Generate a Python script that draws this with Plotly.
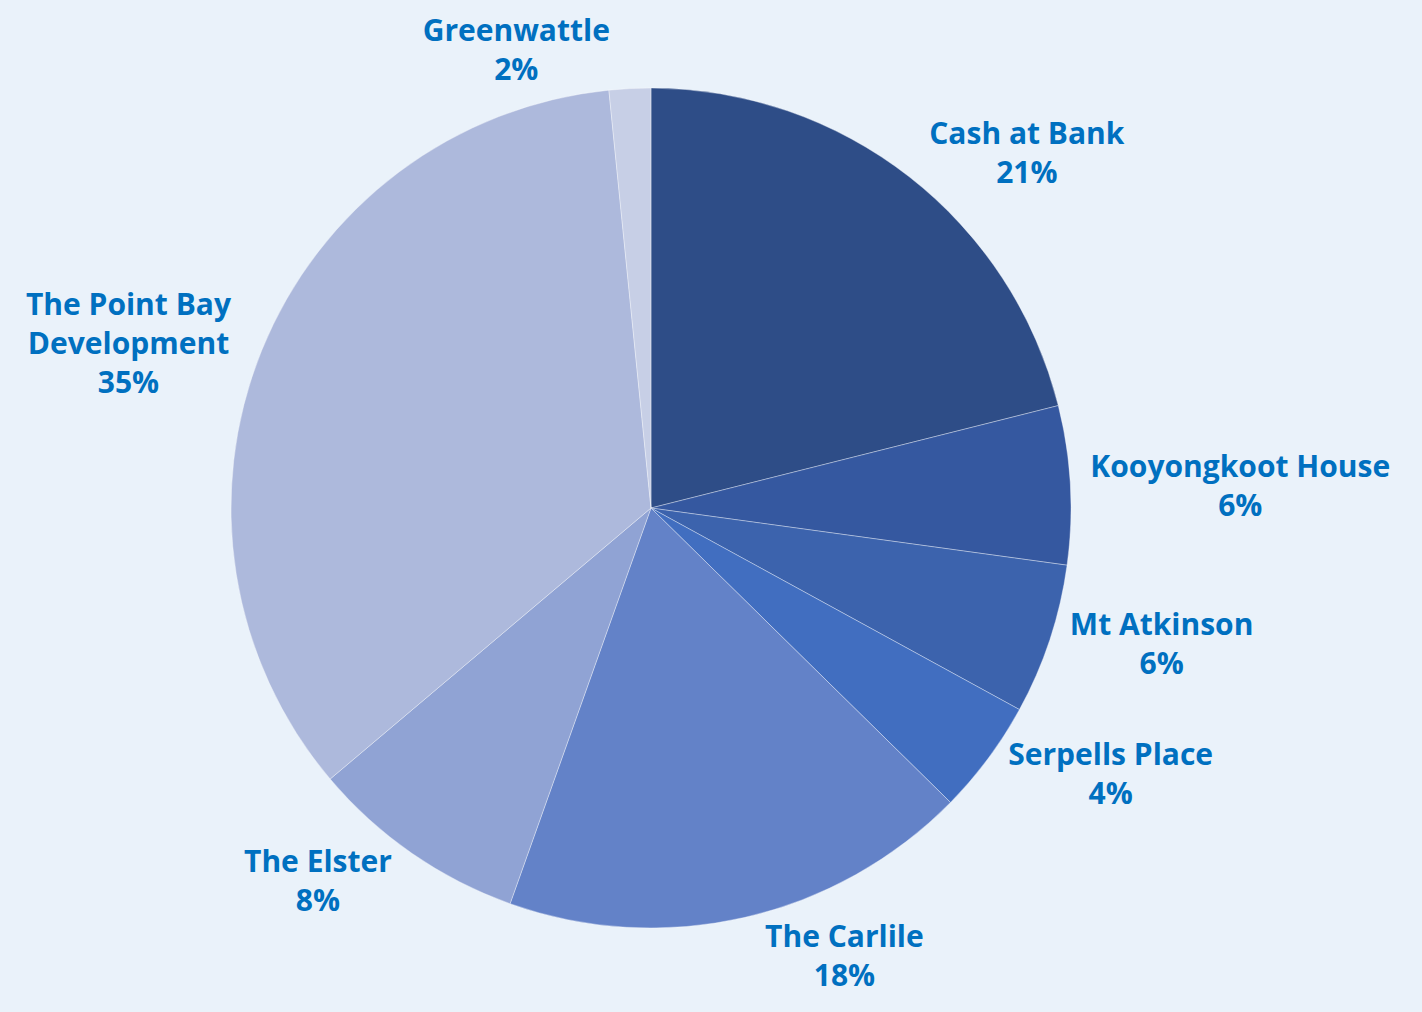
import plotly.graph_objects as go

labels = ["Cash at Bank", "Kooyongkoot House", "Mt Atkinson", "Serpells Place",
          "The Carlile", "The Elster", "The Point Bay<br>Development", "Greenwattle"]
values = [21.1, 6.1, 5.8, 4.4, 18.1, 8.4, 34.6, 1.6]
colors = ["#2E4D87", "#3558A0", "#3C63AD", "#416EC0",
          "#6382C8", "#90A3D4", "#ADB9DC", "#C7CFE6"]

fig = go.Figure(go.Pie(
    labels=labels,
    values=values,
    sort=False,
    direction="clockwise",
    rotation=0,
    marker=dict(colors=colors, line=dict(color="rgba(255,255,255,0.35)", width=1)),
    texttemplate="%{label}<br>%{percent:.0%}",
    textposition="outside",
    textfont=dict(family="Open Sans", size=30, color="#0070C0", weight="bold"),
    showlegend=False,
    hoverinfo="label+percent",
    domain=dict(x=[0.1624, 0.7532], y=[0.083, 0.913]),
    automargin=False,
))

fig.update_layout(
    width=1422, height=1012,
    margin=dict(l=0, r=0, t=0, b=0),
    paper_bgcolor="#EAF2FA",
    plot_bgcolor="#EAF2FA",
)

fig.write_html(
    "out.html",
    config={"displayModeBar": False},
    post_script="document.body.style.margin='0';document.body.style.background='#EAF2FA';document.body.style.overflow='hidden';",
)
